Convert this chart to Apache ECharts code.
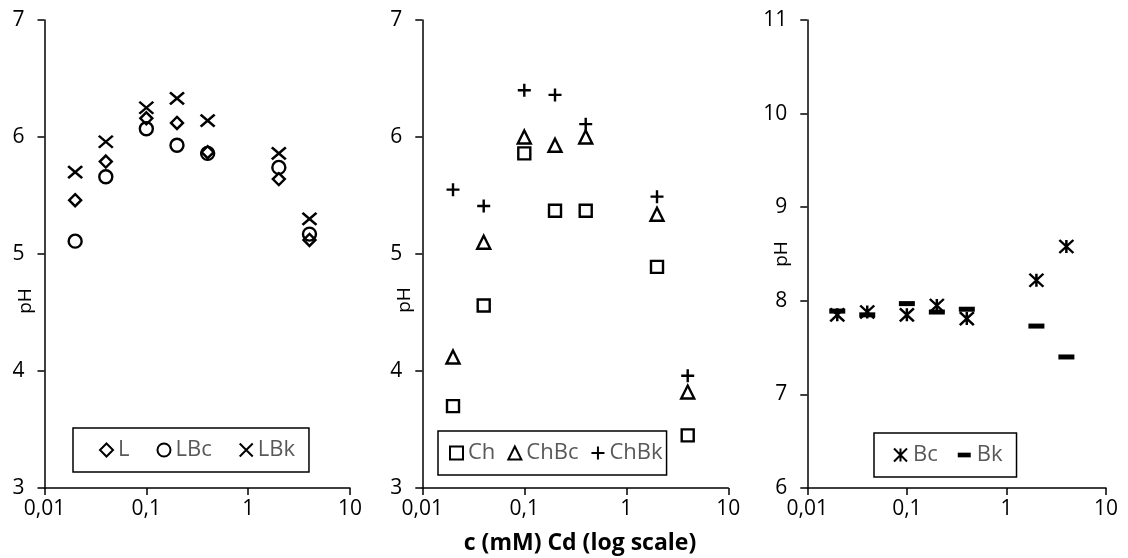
<!DOCTYPE html>
<html><head><meta charset="utf-8">
<script src="https://cdn.jsdelivr.net/npm/echarts@6/dist/echarts.min.js"></script>
<style>html,body{margin:0;padding:0;background:#fff}#c{width:1128px;height:558px}</style>
</head><body><div id="c"></div>
<script>
// ---- data ----
const conc = [0.02, 0.04, 0.1, 0.2, 0.4, 2, 4];
const L    = [5.46, 5.79, 6.16, 6.12, 5.87, 5.64, 5.12];
const LBc  = [5.11, 5.66, 6.07, 5.93, 5.86, 5.74, 5.17];
const LBk  = [5.70, 5.96, 6.25, 6.33, 6.14, 5.86, 5.30];
const Ch   = [3.70, 4.56, 5.86, 5.37, 5.37, 4.89, 3.45];
const ChBc = [4.12, 5.10, 6.00, 5.93, 6.00, 5.34, 3.82];
const ChBk = [5.55, 5.41, 6.40, 6.36, 6.11, 5.49, 3.96];
const Bc   = [7.85, 7.88, 7.85, 7.95, 7.81, 8.22, 8.58];
const Bk   = [7.89, 7.85, 7.97, 7.88, 7.91, 7.73, 7.40];
const xTickLabels = ['0,01', '0,1', '1', '10'];
const xTitle = 'c (mM) Cd (log scale)';
const yTitle = 'pH';

const FONT = 'Open Sans';
const pairs = ys => conc.map((c, i) => [c, ys[i]]);

const SYM = {
  x: 'path://M0,0L10,10M10,0L0,10',
  plus: 'path://M5,0L5,10M0,5L10,5',
  ast: 'path://M0,0L10,10M10,0L0,10M5,0L5,10',
  dash: 'path://M0,0L0,0M0,3.2L10,3.2L10,6.8L0,6.8ZM10,10L10,10'
};

function hollow(name, ys, grid, symbol, size) {
  return {
    name, type: 'scatter', xAxisIndex: grid, yAxisIndex: grid,
    data: pairs(ys), symbol, symbolSize: size,
    itemStyle: { color: 'rgba(0,0,0,0)', borderColor: '#000', borderWidth: 2.4, opacity: 1 },
    emphasis: { disabled: true }, silent: true
  };
}

const grids = [
  { left: 44.5, top: 20, width: 305.5, height: 468 },
  { left: 422.3, top: 20, width: 306, height: 468 },
  { left: 807.3, top: 20, width: 298.7, height: 468 }
];

const xAxes = grids.map((g, i) => ({
  type: 'log', logBase: 10, min: 0.01, max: 10, gridIndex: i,
  axisLine: { lineStyle: { color: '#000', width: 1.5 } },
  axisTick: { show: true, length: 7, lineStyle: { color: '#000', width: 1.5 } },
  minorTick: { show: false }, splitLine: { show: false },
  axisLabel: {
    color: '#000', fontFamily: FONT, fontSize: 21, margin: 11,
    formatter: v => xTickLabels[Math.round(Math.log10(v)) + 2]
  }
}));

const yRanges = [[3, 7], [3, 7], [6, 11]];
const yAxes = yRanges.map((r, i) => ({
  type: 'value', min: r[0], max: r[1], interval: 1, gridIndex: i,
  axisLine: { show: true, lineStyle: { color: '#000', width: 1.5 } },
  axisTick: { show: true, length: 7, lineStyle: { color: '#000', width: 1.5 } },
  splitLine: { show: false },
  axisLabel: { color: '#000', fontFamily: FONT, fontSize: 21, margin: 20 }
}));

const legendBase = {
  orient: 'horizontal', borderColor: '#000', borderWidth: 1.5,
  itemWidth: 13, itemHeight: 13, selectedMode: false,
  textStyle: { color: '#595959', fontFamily: FONT, fontSize: 22 }
};

const option = {
  animation: false,
  grid: grids,
  xAxis: xAxes,
  yAxis: yAxes,
  legend: [
    Object.assign({}, legendBase, { data: ['L', 'LBc', 'LBk'], left: 73, top: 428, padding: [11, 14, 11, 26], itemGap: 27 }),
    Object.assign({}, legendBase, { data: ['Ch', 'ChBc', 'ChBk'], left: 438, top: 431, padding: [11, 4, 11, 11], itemGap: 12 }),
    Object.assign({}, legendBase, { itemWidth: 15, data: ['Bc', { name: 'Bk', icon: SYM.dash }], left: 874, top: 433, padding: [11, 14, 11, 19], itemGap: 20 })
  ],
  series: [
    hollow('L', L, 0, 'diamond', 12),
    hollow('LBc', LBc, 0, 'circle', 13),
    hollow('LBk', LBk, 0, SYM.x, [14, 12]),
    hollow('Ch', Ch, 1, 'rect', 12),
    hollow('ChBc', ChBc, 1, 'triangle', 13),
    hollow('ChBk', ChBk, 1, SYM.plus, 13),
    hollow('Bc', Bc, 2, SYM.ast, [14, 13]),
    {
      name: 'Bk', type: 'scatter', xAxisIndex: 2, yAxisIndex: 2,
      data: pairs(Bk), symbol: 'rect', symbolSize: [16, 5],
      itemStyle: { color: '#000', opacity: 1 }, emphasis: { disabled: true }, silent: true
    }
  ],
  graphic: [
    { type: 'text', x: 26, y: 301, rotation: Math.PI / 2, style: { text: yTitle, fontFamily: FONT, fontSize: 19, fill: '#000', align: 'center', verticalAlign: 'middle' } },
    { type: 'text', x: 405, y: 300, rotation: Math.PI / 2, style: { text: yTitle, fontFamily: FONT, fontSize: 19, fill: '#000', align: 'center', verticalAlign: 'middle' } },
    { type: 'text', x: 782, y: 254, rotation: Math.PI / 2, style: { text: yTitle, fontFamily: FONT, fontSize: 19, fill: '#000', align: 'center', verticalAlign: 'middle' } },
    { type: 'text', x: 580, y: 543, style: { text: xTitle, fontFamily: FONT, fontSize: 23, fontWeight: 'bold', fill: '#000', align: 'center', verticalAlign: 'middle' } }
  ]
};

const chart = echarts.init(document.getElementById('c'), null, { renderer: 'canvas' });
chart.setOption(option);
</script>
</body></html>
